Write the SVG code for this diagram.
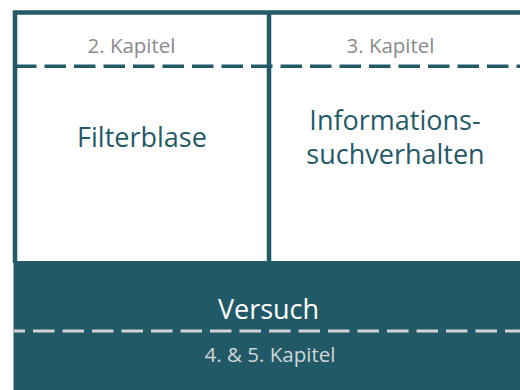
<svg xmlns="http://www.w3.org/2000/svg" width="520" height="390" viewBox="0 0 520 390">
<style>
text{font-family:"Open Sans","Noto Sans","Liberation Sans",sans-serif;text-anchor:middle}
.chap{font-size:20.5px;fill:#8a8a8a}
.title{font-size:27px;fill:#235a68}
.frame{fill:none;stroke:#235a68;stroke-width:4.5}
.dash{fill:none;stroke:#235a68;stroke-width:3.5;stroke-dasharray:21.5 8}
.dashlight{fill:none;stroke:#d2d2d2;stroke-width:3;stroke-dasharray:21.5 8;stroke-dashoffset:10.5}
</style>
<rect width="520" height="390" fill="#ffffff"/>
<g id="connectors">
<line class="dash" x1="15" y1="66.3" x2="520" y2="66.3"/>
<path class="frame" d="M15,263 V12.5 H520 M269,12.5 V261"/>
</g>
<g id="node-filterblase">
<text class="chap" x="131.5" y="53">2. Kapitel</text>
<text class="title" x="142" y="146.5">Filterblase</text>
</g>
<g id="node-informationssuchverhalten">
<text class="chap" x="390.5" y="53">3. Kapitel</text>
<text class="title" x="395" y="130">Informations-</text>
<text class="title" x="395.5" y="164">suchverhalten</text>
</g>
<g id="node-versuch">
<rect x="13.5" y="261" width="506.5" height="129" fill="#225966"/>
<line class="dashlight" x1="14" y1="331" x2="520" y2="331"/>
<text class="title" x="268.5" y="319" fill="#ffffff" style="fill:#ffffff">Versuch</text>
<text class="chap" x="270" y="361.5" style="fill:#cfd6d8">4. &amp; 5. Kapitel</text>
</g>
</svg>
